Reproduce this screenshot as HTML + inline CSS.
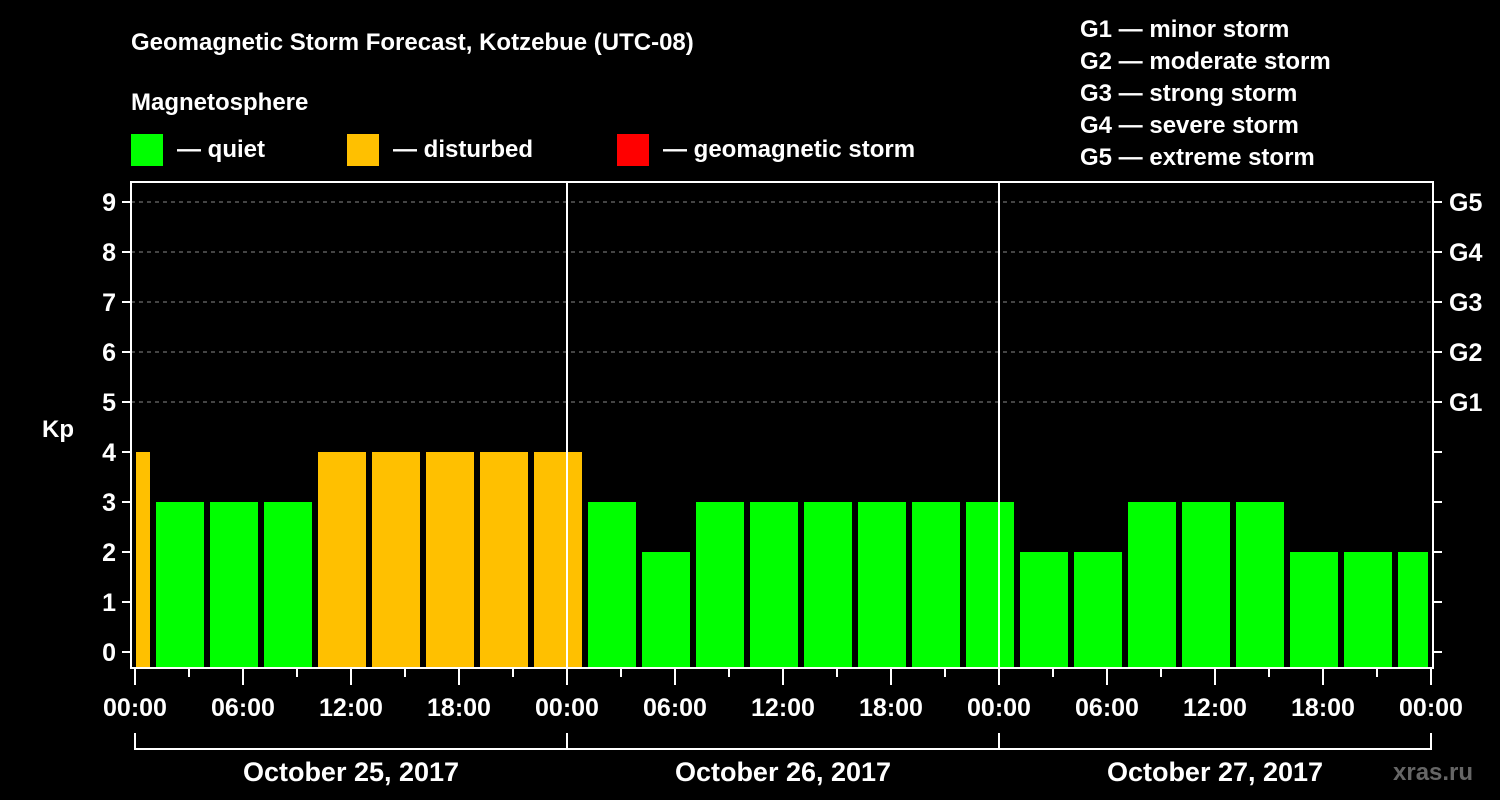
<!DOCTYPE html>
<html><head><meta charset="utf-8"><style>
html,body{margin:0;padding:0;background:#000;width:1500px;height:800px;overflow:hidden}
svg text{font-family:"Liberation Sans",Arial,sans-serif;font-weight:bold;fill:#fff}
</style></head><body>
<svg id="chart" width="1500" height="800" xmlns="http://www.w3.org/2000/svg">
<text x="131" y="50" font-size="24">Geomagnetic Storm Forecast, Kotzebue (UTC-08)</text>
<text x="131" y="110" font-size="24">Magnetosphere</text>
<g>
<rect x="131" y="134" width="32" height="32" fill="#00ff00"/>
<text x="177" y="157" font-size="24">— quiet</text>
<rect x="347" y="134" width="32" height="32" fill="#ffc000"/>
<text x="393" y="157" font-size="24">— disturbed</text>
<rect x="617" y="134" width="32" height="32" fill="#ff0000"/>
<text x="663" y="157" font-size="24">— geomagnetic storm</text>
</g>
<g font-size="24">
<text x="1080" y="37">G1 — minor storm</text>
<text x="1080" y="69">G2 — moderate storm</text>
<text x="1080" y="101">G3 — strong storm</text>
<text x="1080" y="133">G4 — severe storm</text>
<text x="1080" y="165">G5 — extreme storm</text>
</g>
<text x="42" y="437" font-size="24">Kp</text>
<text x="1393" y="780" font-size="24" style="fill:#666">xras.ru</text>
<g id="grid"></g><g id="bars"></g><g id="axes"></g>
</svg>
<script>
const kpValues=[4,3,3,3,4,4,4,4,4,3,2,3,3,3,3,3,3,2,2,3,3,3,2,2,2];
const yTicks=[0,1,2,3,4,5,6,7,8,9];
const gLabels=["G1","G2","G3","G4","G5"];
const xTickLabels=["00:00","06:00","12:00","18:00","00:00","06:00","12:00","18:00","00:00","06:00","12:00","18:00","00:00"];
const dateLabels=["October 25, 2017","October 26, 2017","October 27, 2017"];
const NS="http://www.w3.org/2000/svg";
const X0=135,PXH=18,TOTALH=72,Y0=652,PXK=50,LEFT=131,RIGHT=1433,TOP=182,BOTTOM=668;
const xs=h=>X0+h*PXH, ys=k=>Y0-k*PXK;
function mk(p,tag,a){const e=document.createElementNS(NS,tag);for(const k in a)e.setAttribute(k,a[k]);p.appendChild(e);return e;}
const grid=document.getElementById('grid'),bars=document.getElementById('bars'),axes=document.getElementById('axes');
for(let k=5;k<=9;k++){const l=mk(grid,'line',{x1:LEFT,x2:RIGHT,y1:ys(k),y2:ys(k),stroke:'#888','stroke-dasharray':'4,4','stroke-width':1});

}
kpValues.forEach((v,i)=>{let h0=1+3*(i-1),h1=h0+3;let a=Math.max(xs(h0)+3,xs(0)+1),b=Math.min(xs(h1)-3,xs(TOTALH)-3);
const r=mk(bars,'rect',{x:a,y:ys(v),width:b-a,height:BOTTOM-ys(v),fill:v>=5?'#ff0000':(v>=4?'#ffc000':'#00ff00')});

});
[24,48].forEach(h=>{const l=mk(axes,'line',{x1:xs(h),x2:xs(h),y1:TOP,y2:BOTTOM,stroke:'#fff','stroke-width':2});

});
const fr=mk(axes,'rect',{x:LEFT,y:TOP,width:RIGHT-LEFT,height:BOTTOM-TOP,fill:'none',stroke:'#fff','stroke-width':2});


yTicks.forEach(k=>{mk(axes,'line',{x1:LEFT-9,x2:LEFT,y1:ys(k),y2:ys(k),stroke:'#fff','stroke-width':2});
mk(axes,'line',{x1:RIGHT,x2:RIGHT+9,y1:ys(k),y2:ys(k),stroke:'#fff','stroke-width':2});
const t=mk(axes,'text',{x:116,y:ys(k)+9,'font-size':25,'text-anchor':'end'});t.textContent=k;

});
gLabels.forEach((g,i)=>{const t=mk(axes,'text',{x:1449,y:ys(5+i)+9,'font-size':25});t.textContent=g;

});
for(let h=0;h<=TOTALH;h+=3){const major=h%6===0;mk(axes,'line',{x1:xs(h),x2:xs(h),y1:BOTTOM,y2:BOTTOM+(major?17:9),stroke:'#fff','stroke-width':2});}
xTickLabels.forEach((s,i)=>{const t=mk(axes,'text',{x:xs(i*6),y:716,'font-size':25,'text-anchor':'middle'});t.textContent=s;

});
mk(axes,'line',{x1:xs(0),x2:xs(TOTALH),y1:749,y2:749,stroke:'#fff','stroke-width':2});
for(let d=0;d<=3;d++)mk(axes,'line',{x1:xs(d*24),x2:xs(d*24),y1:733,y2:750,stroke:'#fff','stroke-width':2});
dateLabels.forEach((s,i)=>{const t=mk(axes,'text',{x:xs(i*24+12),y:781,'font-size':27,'text-anchor':'middle'});t.textContent=s;

});
</script>
</body></html>
